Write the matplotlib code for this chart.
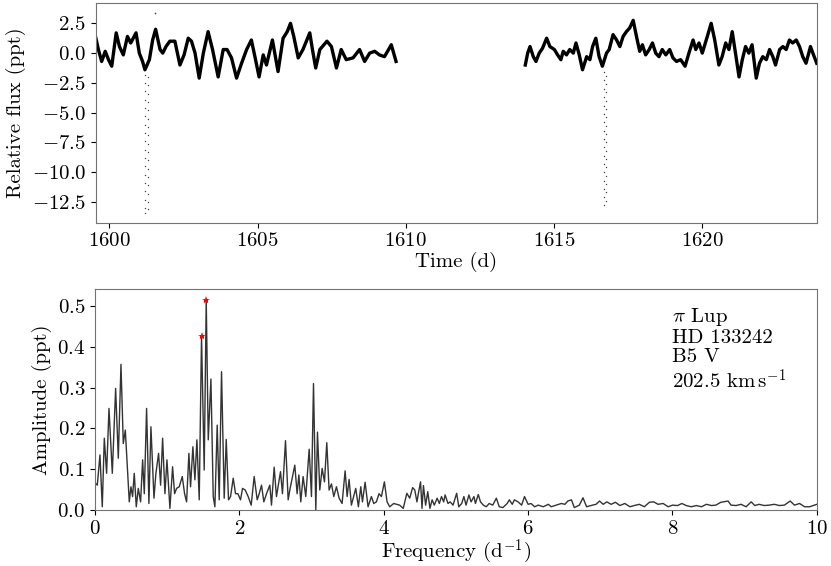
import numpy as np
import matplotlib
matplotlib.use("Agg")
import matplotlib.pyplot as plt
from matplotlib.ticker import MultipleLocator

plt.rcParams['font.family'] = 'cmr10'
plt.rcParams['mathtext.fontset'] = 'cm'
plt.rcParams['axes.formatter.use_mathtext'] = True

# light curve, first orbit (d, ppt)
seg1_time = [1599.54, 1599.63, 1599.74, 1599.86, 1599.97, 1600.08, 1600.23, 1600.34, 1600.47, 1600.61,
             1600.72, 1600.90, 1601.01, 1601.12, 1601.20, 1601.35, 1601.46, 1601.56, 1601.71, 1601.80,
             1601.91, 1602.04, 1602.21, 1602.38, 1602.52, 1602.66, 1602.77, 1602.89, 1603.03, 1603.17,
             1603.33, 1603.48, 1603.67, 1603.84, 1603.97, 1604.12, 1604.29, 1604.46, 1604.63, 1604.79,
             1604.91, 1605.05, 1605.19, 1605.30, 1605.50, 1605.69, 1605.86, 1606.00, 1606.11, 1606.22,
             1606.37, 1606.53, 1606.76, 1606.85, 1606.96, 1607.10, 1607.34, 1607.49, 1607.66, 1607.82,
             1607.99, 1608.22, 1608.44, 1608.61, 1608.78, 1608.95, 1609.11, 1609.28, 1609.51, 1609.67]
seg1_flux = [1.3, 0.3, -0.7, 0.15, -0.55, -1.1, 1.7, 0.55, -0.15, 1.4,
             0.85, 1.7, 0.0, -0.7, -1.4, -0.55, 1.1, 2.0, 0.3, 0.0,
             0.55, 1.0, 1.0, -1.0, -0.15, 1.25, 1.0, 0.0, -2.1, 0.0,
             1.8, 0.3, -2.0, 0.3, 0.3, -0.4, -2.1, -0.85, 0.3, 1.1,
             -0.3, -2.0, -0.15, -1.0, 1.1, -1.55, 1.25, 1.8, 2.5, 1.4,
             -0.4, 0.3, 1.7, 0.3, -1.25, 0.3, 1.0, 0.55, -1.25, 0.3,
             -0.55, -0.4, 0.3, -0.7, 0.0, 0.15, -0.15, -0.3, 0.7, -0.7]

# light curve, second orbit
seg2_time = [1614.03, 1614.11, 1614.19, 1614.30, 1614.39, 1614.50, 1614.61, 1614.75, 1614.86, 1615.01,
             1615.12, 1615.23, 1615.31, 1615.42, 1615.53, 1615.65, 1615.74, 1615.85, 1615.96, 1616.10,
             1616.21, 1616.30, 1616.41, 1616.52, 1616.63, 1616.77, 1616.86, 1616.99, 1617.11, 1617.22,
             1617.33, 1617.44, 1617.55, 1617.67, 1617.78, 1617.89, 1617.98, 1618.09, 1618.21, 1618.32,
             1618.43, 1618.54, 1618.65, 1618.77, 1618.90, 1619.01, 1619.13, 1619.27, 1619.42, 1619.55,
             1619.69, 1619.78, 1619.89, 1620.00, 1620.17, 1620.30, 1620.42, 1620.56, 1620.67, 1620.79,
             1620.90, 1621.01, 1621.12, 1621.24, 1621.35, 1621.46, 1621.57, 1621.68, 1621.82, 1621.93,
             1622.04, 1622.16, 1622.27, 1622.38, 1622.47, 1622.61, 1622.72, 1622.83, 1622.94, 1623.05,
             1623.17, 1623.28, 1623.39, 1623.50, 1623.65, 1623.73, 1623.86]
seg2_flux = [-1.0, 0.0, 0.55, -0.3, -0.7, 0.0, 0.4, 1.25, 0.55, 0.3,
             -0.15, -0.55, 0.15, -0.15, 0.3, 0.0, 0.85, -0.15, -1.4, -0.3,
             -0.55, 0.55, 1.25, -0.3, -1.1, 0.0, 0.3, 1.55, 1.1, 0.55,
             1.4, 1.8, 2.1, 2.75, 1.4, 0.15, 0.7, -0.15, 0.3, 0.85,
             0.0, -0.3, 0.3, -0.15, 0.3, -0.4, -0.7, -0.55, -1.1, 0.0,
             1.1, 0.3, 0.85, 0.0, 1.4, 2.5, 1.1, -1.0, -0.3, 0.85,
             0.3, 1.8, 0.0, -2.0, -0.55, 0.55, 0.0, 0.7, -2.1, -0.85,
             -0.3, -0.55, 0.3, -0.3, -1.0, 0.3, 0.55, 0.3, 1.1, 0.85,
             1.1, 0.55, -0.3, -0.85, 0.55, 0.0, -0.85]

# eclipse points (sparse in-eclipse cadences)
ecl1_in_t, ecl1_out_t = 1601.21, 1601.30
ecl1_in_f = [-1.8, -2.5, -3.2, -3.9, -4.6, -5.3, -6.0, -6.7, -7.4, -8.1, -8.8, -9.5,
             -10.2, -10.9, -11.6, -12.3, -13.0, -13.4]
ecl1_out_f = [-13.1, -12.5, -11.8, -11.1, -10.4, -9.7, -9.0, -8.3, -7.6, -6.9, -6.2,
              -5.5, -4.8, -4.1, -3.4, -2.7, -2.0]
ecl2_in_t, ecl2_out_t = 1616.67, 1616.76
ecl2_in_f = [-1.6, -2.3, -3.0, -3.7, -4.4, -5.1, -5.8, -6.5, -7.2, -7.9, -8.6, -9.3,
             -10.0, -10.7, -11.4, -12.1, -12.75]
ecl2_out_f = [-12.4, -11.7, -11.0, -10.3, -9.6, -8.9, -8.2, -7.5, -6.8, -6.1, -5.4,
              -4.7, -4.0, -3.3, -2.6, -1.9]
outlier_t = [1601.54]
outlier_f = [3.36]

# amplitude spectrum (d^-1, ppt)
freq_lo = [0.01, 0.032, 0.069, 0.101, 0.129, 0.161, 0.194, 0.240, 0.286, 0.323,
           0.360, 0.392, 0.420, 0.475, 0.498, 0.521, 0.544, 0.572, 0.600, 0.632,
           0.660, 0.683, 0.715, 0.747, 0.775, 0.817, 0.844, 0.881, 0.909, 0.937,
           0.969, 0.997, 1.038, 1.075, 1.103, 1.130, 1.167, 1.209, 1.241, 1.269,
           1.301, 1.324, 1.356, 1.384, 1.412, 1.444, 1.476, 1.513, 1.541, 1.569,
           1.606, 1.638, 1.661, 1.693, 1.721, 1.753, 1.790, 1.818, 1.850, 1.878,
           1.915, 1.947, 1.979, 2.016, 2.044, 2.081, 2.122, 2.164, 2.205, 2.247,
           2.275, 2.307, 2.339, 2.376, 2.422, 2.445, 2.482, 2.514, 2.570, 2.597,
           2.639, 2.676, 2.699, 2.768, 2.800, 2.824, 2.851, 2.883, 2.920, 2.967,
           2.999, 3.027, 3.059, 3.082, 3.114, 3.147, 3.179, 3.211, 3.243, 3.276,
           3.308, 3.345, 3.382, 3.423, 3.465, 3.493, 3.520, 3.552, 3.612, 3.649,
           3.682, 3.705, 3.742, 3.783, 3.829, 3.862, 3.898, 3.935, 3.968, 4.009,
           4.046, 4.083, 4.138]
amp_lo = [0.065, 0.061, 0.135, 0.008, 0.176, 0.09, 0.249, 0.09, 0.298, 0.127,
          0.357, 0.163, 0.196, 0.02, 0.057, 0.033, 0.09, 0.008, 0.053, 0.02,
          0.123, 0.04, 0.249, 0.016, 0.204, 0.029, 0.09, 0.139, 0.061, 0.176,
          0.04, 0.123, 0.004, 0.106, 0.04, 0.053, 0.057, 0.082, 0.04, 0.02,
          0.139, 0.057, 0.155, 0.074, 0.172, 0.025, 0.426, 0.098, 0.515, 0.172,
          0.321, 0.033, 0.008, 0.208, 0.025, 0.339, 0.029, 0.173, 0.025, 0.033,
          0.078, 0.04, 0.04, 0.025, 0.053, 0.049, 0.033, 0.012, 0.082, 0.025,
          0.04, 0.061, 0.02, 0.04, 0.061, 0.012, 0.105, 0.033, 0.094, 0.04,
          0.17, 0.025, 0.049, 0.11, 0.04, 0.086, 0.02, 0.082, 0.033, 0.149,
          0.033, 0.31, 0.0, 0.191, 0.049, 0.102, 0.069, 0.165, 0.049, 0.064,
          0.033, 0.057, 0.029, 0.016, 0.096, 0.033, 0.075, 0.012, 0.053, 0.008,
          0.057, 0.02, 0.068, 0.008, 0.033, 0.016, 0.02, 0.04, 0.033, 0.069,
          0.02, 0.008, 0.016]
freq_hi = [4.22, 4.27, 4.32, 4.36, 4.40, 4.43, 4.46, 4.48, 4.51, 4.53,
           4.55, 4.58, 4.61, 4.64, 4.67, 4.70, 4.74, 4.77, 4.80, 4.83,
           4.85, 4.89, 4.92, 4.96, 5.01, 5.04, 5.08, 5.11, 5.14, 5.18,
           5.21, 5.25, 5.27, 5.31, 5.34, 5.38, 5.42, 5.46, 5.51, 5.56,
           5.60, 5.65, 5.71, 5.74, 5.78, 5.81, 5.86, 5.91, 5.95, 6.00,
           6.04, 6.09, 6.14, 6.21, 6.28, 6.32, 6.39, 6.46, 6.51, 6.55,
           6.60, 6.64, 6.71, 6.76, 6.81, 6.87, 6.94, 6.99, 7.04, 7.09,
           7.15, 7.21, 7.27, 7.34, 7.41, 7.47, 7.54, 7.61, 7.68, 7.74,
           7.80, 7.87, 7.94, 8.00, 8.07, 8.13, 8.19, 8.26, 8.33, 8.40,
           8.47, 8.54, 8.60, 8.67, 8.77, 8.81, 8.88, 8.95, 9.02, 9.09,
           9.14, 9.20, 9.27, 9.34, 9.41, 9.48, 9.55, 9.63, 9.69, 9.76,
           9.83, 9.90, 9.97, 10.0]
amp_hi = [0.012, 0.004, 0.041, 0.029, 0.055, 0.049, 0.02, 0.041, 0.069, 0.004,
          0.06, 0.012, 0.045, 0.004, 0.025, 0.012, 0.029, 0.016, 0.033, 0.02,
          0.037, 0.016, 0.02, 0.012, 0.041, 0.008, 0.016, 0.033, 0.012, 0.037,
          0.02, 0.033, 0.016, 0.038, 0.02, 0.012, 0.008, 0.016, 0.012, 0.029,
          0.008, 0.006, 0.016, 0.025, 0.014, 0.025, 0.02, 0.012, 0.033, 0.014,
          0.016, 0.008, 0.012, 0.008, 0.014, 0.008, 0.012, 0.016, 0.014, 0.022,
          0.025, 0.006, 0.012, 0.03, 0.008, 0.011, 0.014, 0.022, 0.014, 0.02,
          0.014, 0.019, 0.011, 0.016, 0.008, 0.011, 0.014, 0.008, 0.019, 0.02,
          0.014, 0.016, 0.008, 0.012, 0.011, 0.016, 0.011, 0.008, 0.011, 0.008,
          0.014, 0.011, 0.012, 0.019, 0.022, 0.012, 0.011, 0.014, 0.008, 0.02,
          0.011, 0.014, 0.011, 0.012, 0.014, 0.011, 0.012, 0.022, 0.012, 0.016,
          0.008, 0.008, 0.012, 0.014]

# the two strongest peaks, marked in red
peak_freq = [1.476, 1.541]
peak_amp = [0.426, 0.515]

star_info = "$\\pi$ Lup\nHD 133242\nB5 V\n202.5 km$\\,$s$^{-1}$"

fig = plt.figure(figsize=(8.31, 5.66), dpi=100)
ax1 = fig.add_axes([0.1152, 0.6065, 0.8676, 0.3887])
ax2 = fig.add_axes([0.1143, 0.0989, 0.8687, 0.3900])

# top: light curve
ax1.plot(seg1_time, seg1_flux, color='k', lw=2.4)
ax1.plot(seg2_time, seg2_flux, color='k', lw=2.4)
for t_in, f_in, t_out, f_out in [(ecl1_in_t, ecl1_in_f, ecl1_out_t, ecl1_out_f),
                                 (ecl2_in_t, ecl2_in_f, ecl2_out_t, ecl2_out_f)]:
    ax1.plot(np.full(len(f_in), t_in), f_in, 'o', color='0.25', ms=1.0, mew=0)
    ax1.plot(np.full(len(f_out), t_out), f_out, 'o', color='0.25', ms=1.0, mew=0)
ax1.plot(outlier_t, outlier_f, 'o', color='0.25', ms=1.2, mew=0)
ax1.set_xlim(1599.54, 1623.86)
ax1.set_ylim(-14.24, 4.23)
ax1.xaxis.set_major_locator(MultipleLocator(5))
ax1.yaxis.set_major_locator(MultipleLocator(2.5))
ax1.set_xlabel('Time (d)', fontsize=15, labelpad=1)
ax1.set_ylabel('Relative flux (ppt)', fontsize=15)

# bottom: amplitude spectrum
freq = freq_lo + freq_hi
amp = amp_lo + amp_hi
ax2.plot(freq, amp, color='#333333', lw=1.0)
ax2.plot(peak_freq, peak_amp, '*', color='red', ms=6, mew=0)
ax2.set_xlim(0, 10)
ax2.set_ylim(0, 0.541)
ax2.xaxis.set_major_locator(MultipleLocator(2))
ax2.yaxis.set_major_locator(MultipleLocator(0.1))
ax2.set_xlabel('Frequency (d$^{-1}$)', fontsize=15, labelpad=0)
ax2.set_ylabel('Amplitude (ppt)', fontsize=15)
ax2.text(0.80, 0.925, star_info, transform=ax2.transAxes, va='top', ha='left',
         fontsize=15, linespacing=1.1)

for ax in (ax1, ax2):
    ax.tick_params(labelsize=15)
    for sp in ax.spines.values():
        sp.set_color('0.45')

fig.savefig('out.png', dpi=100)
